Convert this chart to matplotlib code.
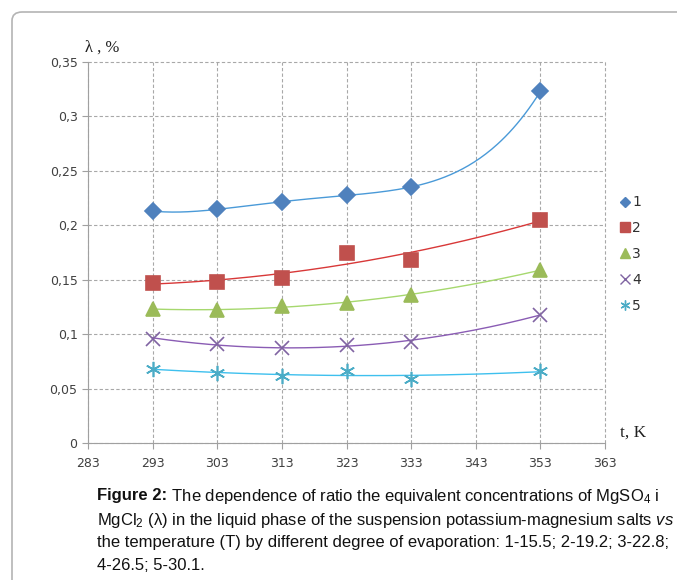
import matplotlib
matplotlib.use('Agg')
import matplotlib.pyplot as plt
import numpy as np
from matplotlib.lines import Line2D
from matplotlib.patches import FancyBboxPatch

# data
temps = [293, 303, 313, 323, 333, 353]
s1 = [0.213, 0.215, 0.221, 0.228, 0.235, 0.323]
s2 = [0.147, 0.148, 0.152, 0.175, 0.168, 0.205]
s3 = [0.123, 0.122, 0.126, 0.129, 0.136, 0.159]
s4 = [0.096, 0.091, 0.087, 0.090, 0.093, 0.118]
s5 = [0.068, 0.064, 0.062, 0.066, 0.059, 0.066]
labels = ['1', '2', '3', '4', '5']
x_ticks = [283, 293, 303, 313, 323, 333, 343, 353, 363]
y_ticks = [0, 0.05, 0.1, 0.15, 0.2, 0.25, 0.3, 0.35]
y_ticklabels = ['0', '0,05', '0,1', '0,15', '0,2', '0,25', '0,3', '0,35']

plt.rcParams['mathtext.fontset'] = 'custom'
plt.rcParams['mathtext.rm'] = 'Liberation Sans'
plt.rcParams['mathtext.it'] = 'Liberation Sans:italic'
plt.rcParams['mathtext.bf'] = 'Liberation Sans:bold'

fig = plt.figure(figsize=(6.77, 5.80), dpi=100)
ax = fig.add_axes([0.130, 0.2362, 0.7637, 0.6569])

# rounded frame round the whole figure
frame = FancyBboxPatch((12 / 677, -0.5), 1.2, 1.5 - 12 / 580,
                       boxstyle='round,pad=0,rounding_size=0.015',
                       transform=fig.transFigure, fill=False,
                       edgecolor='#b4b4b4', linewidth=1.2)
fig.patches.append(frame)

marker_cols = ['#4F81BD', '#C0504D', '#9BBB59', '#8064A2', '#4BACC6']
line_cols = ['#4A9AD8', '#D83838', '#A6D86E', '#8A5CB4', '#3EC0EE']
markers = ['D', 's', '^', 'x', (6, 2, 0)]
msizes = [8, 10, 10, 10, 11]
degs = [4, 2, 2, 2, 2]

series = [s1, s2, s3, s4, s5]
xs = np.linspace(temps[0], temps[-1], 200)
handles = []
for vals, mc, lc, mk, ms, dg, lab in zip(series, marker_cols, line_cols,
                                         markers, msizes, degs, labels):
    coef = np.polyfit(temps, vals, dg)
    ax.plot(xs, np.polyval(coef, xs), color=lc, lw=1.0, zorder=2)
    ax.plot(temps, vals, linestyle='none', marker=mk, markersize=ms,
            color=mc, markeredgecolor=mc, markeredgewidth=1.2, zorder=3)
    handles.append(Line2D([], [], linestyle='none', marker=mk,
                          markersize=ms * 0.65, color=mc,
                          markeredgecolor=mc, label=lab))

ax.set_xlim(283, 363)
ax.set_ylim(0, 0.35)
ax.set_xticks(x_ticks)
ax.set_xticklabels([str(t) for t in x_ticks])
ax.set_yticks(y_ticks)
ax.set_yticklabels(y_ticklabels)
ax.tick_params(labelsize=9, colors='#404040', length=4, width=0.8,
               color='#a0a0a0')
ax.tick_params(axis='x', pad=6)
ax.grid(True, linestyle=(0, (3, 2)), color='#a8a8a8', linewidth=0.8)
for g in ax.get_xgridlines() + ax.get_ygridlines():
    g.set_clip_on(False)
ax.spines['top'].set_visible(False)
ax.spines['right'].set_visible(False)
ax.spines['left'].set_color('#a0a0a0')
ax.spines['bottom'].set_color('#a0a0a0')

fig.text(85 / 677, 1 - 48 / 580, 'λ , %', fontsize=12, family='Liberation Serif',
         va='center', ha='left', color='#202020')
fig.text(620 / 677, 1 - 433 / 580, 't, K', fontsize=12.5, family='Liberation Serif',
         va='center', ha='left', color='#202020')

fig.legend(handles=handles, loc='upper left',
           bbox_to_anchor=(606 / 677, 1 - 183 / 580), frameon=False,
           fontsize=10, handletextpad=0.0, labelspacing=0.85,
           handlelength=1.0, labelcolor='#303030')

caption_head = 'Figure 2:'
caption = [
    r' The dependence of ratio the equivalent concentrations of MgSO$_4$ i',
    r'MgCl$_2$ (λ) in the liquid phase of the suspension potassium-magnesium salts $\mathit{vs}$',
    'the temperature (T) by different degree of evaporation: 1-15.5; 2-19.2; 3-22.8;',
    '4-26.5; 5-30.1.',
]
cap_size = 12
y0 = 1 - 494 / 580
head = fig.text(97 / 677, y0, caption_head, fontsize=cap_size,
                family='Liberation Sans', weight='bold', va='center_baseline',
                ha='left', color='#111111')
renderer = fig.canvas.get_renderer()
head_ext = head.get_window_extent(renderer)
fig.text(head_ext.x1 / fig.bbox.width, y0, caption[0], fontsize=cap_size,
         family='Liberation Sans', va='center_baseline', ha='left',
         color='#111111')
for i, line in enumerate(caption[1:], start=1):
    fig.text(97 / 677, 1 - (494 + 23.5 * i) / 580, line, fontsize=cap_size,
             family='Liberation Sans', va='center_baseline', ha='left',
             color='#111111')

fig.savefig('out.png', dpi=100)
